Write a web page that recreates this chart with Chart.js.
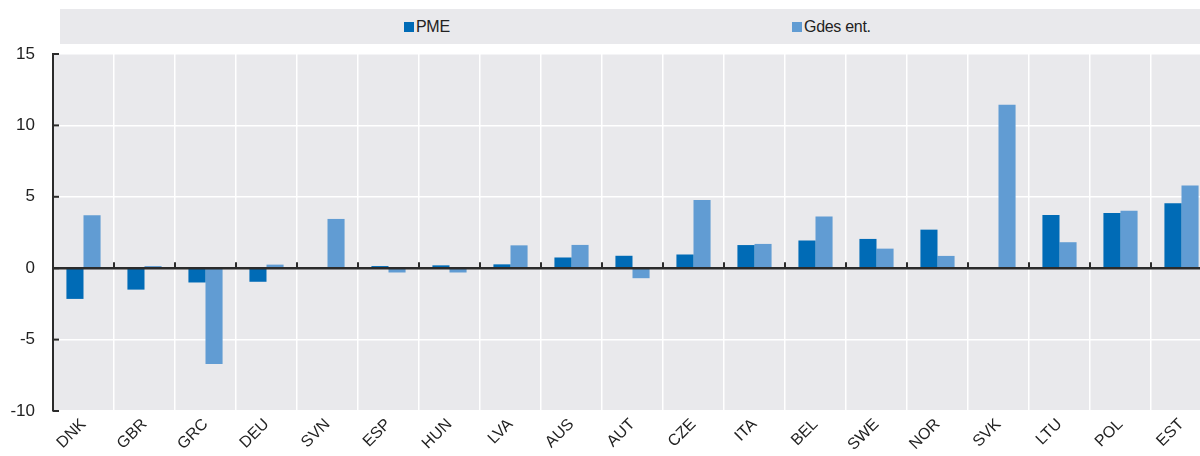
<!DOCTYPE html>
<html>
<head>
<meta charset="utf-8">
<script src="https://cdn.jsdelivr.net/npm/chart.js@4/dist/chart.umd.min.js"></script>
<style>
html, body { margin: 0; padding: 0; background: #fff; overflow: hidden; width: 1200px; height: 456px; }
#wrap { position: relative; width: 1214px; height: 456px; }
#legend { position: absolute; left: 60px; top: 9px; width: 1160px; height: 35px; background: #e9e9ec;
  font-family: "Liberation Sans", Arial, sans-serif; font-size: 16px; color: #222; }
.item { position: absolute; top: 9px; white-space: nowrap; letter-spacing: -0.3px; }
.sw { display: inline-block; width: 10px; height: 10px; margin-right: 2px; vertical-align: 0px; }
</style>
</head>
<body>
<div id="wrap">
  <canvas id="chart" width="1214" height="456"></canvas>
  <div id="legend">
    <span class="item" style="left:344px"><span class="sw" style="background:#006bb6"></span>PME</span>
    <span class="item" style="left:732px"><span class="sw" style="background:#619cd3"></span>Gdes ent.</span>
  </div>
</div>
<script>
// pays
const countries = ["DNK", "GBR", "GRC", "DEU", "SVN", "ESP", "HUN", "LVA", "AUS", "AUT",
  "CZE", "ITA", "BEL", "SWE", "NOR", "SVK", "LTU", "POL", "EST"];
// PME
const smeValues = [-2.15, -1.5, -1.0, -0.95, 0, 0.15, 0.2, 0.27, 0.75, 0.87,
  0.96, 1.62, 1.94, 2.05, 2.7, 0, 3.72, 3.86, 4.54];
// grandes entreprises
const largeValues = [3.7, 0.15, -6.7, 0.25, 3.45, -0.3, -0.3, 1.6, 1.63, -0.7,
  4.78, 1.7, 3.62, 1.37, 0.86, 11.45, 1.82, 4.02, 5.8];
const yTicks = [-10, -5, 0, 5, 10, 15];

const FONT = "'Liberation Sans', Arial, sans-serif";

// fond gris + ligne zéro + petites graduations
const decor = {
  id: "decor",
  beforeDraw(chart) {
    const { ctx, chartArea: a } = chart;
    ctx.save();
    ctx.fillStyle = "#e9e9ec";
    ctx.fillRect(a.left, a.top, a.right - a.left, a.bottom - a.top);
    ctx.restore();
  },
  afterDatasetsDraw(chart) {
    const { ctx, chartArea: a, scales } = chart;
    const y0 = scales.y.getPixelForValue(0);
    ctx.save();
    ctx.strokeStyle = "#2b2b2b";
    ctx.lineWidth = 2.5;
    ctx.beginPath();
    ctx.moveTo(a.left, y0);
    ctx.lineTo(a.right, y0);
    ctx.stroke();
    // graduations x sur la ligne zéro
    ctx.lineWidth = 2;
    const w = (a.right - a.left) / countries.length;
    for (let i = 1; i < countries.length; i++) {
      const x = a.left + i * w;
      ctx.beginPath();
      ctx.moveTo(x, y0 - 6);
      ctx.lineTo(x, y0);
      ctx.stroke();
    }
    // graduations y vers l'intérieur
    yTicks.forEach(v => {
      const y = scales.y.getPixelForValue(v);
      ctx.beginPath();
      ctx.moveTo(a.left, y);
      ctx.lineTo(a.left + 6, y);
      ctx.stroke();
    });
    ctx.restore();
  }
};

new Chart(document.getElementById("chart").getContext("2d"), {
  type: "bar",
  data: {
    labels: countries,
    datasets: [
      { label: "PME", data: smeValues, backgroundColor: "#006bb6" },
      { label: "Gdes ent.", data: largeValues, backgroundColor: "#619cd3" }
    ]
  },
  options: {
    responsive: false,
    animation: false,
    layout: { padding: { top: 54, right: 2, left: 0, bottom: 0 } },
    datasets: { bar: { categoryPercentage: 0.56, barPercentage: 1.0 } },
    plugins: { legend: { display: false }, tooltip: { enabled: false } },
    scales: {
      x: {
        afterFit(s) { s.height = 45; },
        border: { display: false },
        grid: { color: "#ffffff", lineWidth: 1.5, drawTicks: false, offset: true },
        ticks: { minRotation: 45, maxRotation: 45, padding: 4, color: "#222",
          font: { family: FONT, size: 16 } }
      },
      y: {
        min: -10,
        max: 15,
        afterFit(s) { s.width = 53; },
        afterBuildTicks(s) { s.ticks = yTicks.map(v => ({ value: v })); },
        border: { display: true, color: "#2b2b2b", width: 2 },
        grid: { color: "#ffffff", lineWidth: 1.5, drawTicks: false },
        ticks: { padding: 18, color: "#222", font: { family: FONT, size: 17 } }
      }
    }
  },
  plugins: [decor]
});
</script>
</body>
</html>
